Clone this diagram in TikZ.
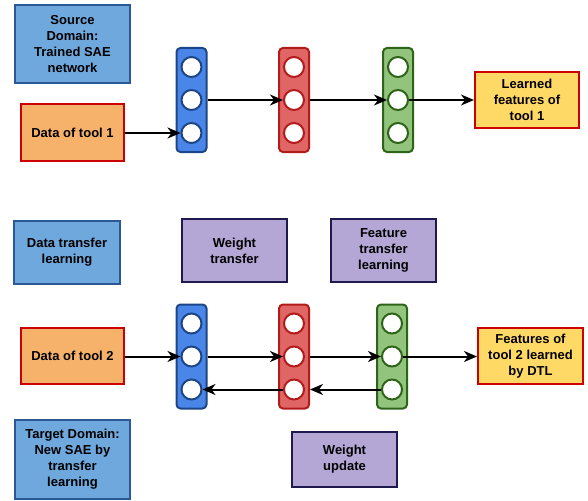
\documentclass[tikz,border=0pt]{standalone}
\usepackage{fontspec}
\setmainfont{Liberation Sans}
\usetikzlibrary{arrows.meta}

\definecolor{domfill}{HTML}{6FA8DC}
\definecolor{domline}{HTML}{2B5797}
\definecolor{bluefill}{HTML}{4A86E8}
\definecolor{blueline}{HTML}{1C4587}
\definecolor{redfill}{HTML}{E06666}
\definecolor{redline}{HTML}{B31B1B}
\definecolor{greenfill}{HTML}{93C47D}
\definecolor{greenline}{HTML}{2E6418}
\definecolor{orangefill}{HTML}{F6B26B}
\definecolor{yellowfill}{HTML}{FFD966}
\definecolor{boxred}{HTML}{CC0000}
\definecolor{purplefill}{HTML}{B4A7D6}
\definecolor{purpleline}{HTML}{1E1A4D}

\tikzset{
  lbl/.style={draw, line width=2pt, align=center, inner sep=0pt,
    font=\bfseries\fontsize{13}{16}\selectfont},
  dombox/.style={lbl, fill=domfill, draw=domline},
  databox/.style={lbl, fill=orangefill, draw=boxred},
  featbox/.style={lbl, fill=yellowfill, draw=boxred},
  methbox/.style={lbl, fill=purplefill, draw=purpleline},
  layer/.style={draw, line width=2pt, rounded corners=4pt, inner sep=0pt,
    minimum width=30pt, minimum height=104pt},
  unit/.style={circle, draw, fill=white, line width=2pt, inner sep=0pt,
    minimum size=20pt},
  flow/.style={line width=2pt,
    -{Stealth[length=13pt, width=11pt, inset=4pt]}},
}

% one network layer: column #1 with three units #1-1, #1-2, #1-3
\newcommand{\saelayer}[4]{%
  \node[layer, fill=#3, draw=#4] (#1) at (#2) {};
  \node[unit, draw=#4] (#1-1) at ([yshift=33pt]#1.center) {};
  \node[unit, draw=#4] (#1-2) at (#1.center) {};
  \node[unit, draw=#4] (#1-3) at ([yshift=-33pt]#1.center) {};
}

\begin{document}
\begin{tikzpicture}[x=1pt, y=-1pt]
\useasboundingbox (0,0) rectangle (588,500);

% ---- source domain ----
\node[dombox, minimum width=115pt, minimum height=78pt] (src) at (72.5,44)
  {Source\\Domain:\\Trained SAE\\network};
\node[databox, minimum width=103pt, minimum height=56pt] (d1) at (72.5,132.5)
  {Data of tool 1};
\saelayer{sa}{191.5,100}{bluefill}{blueline}
\saelayer{sb}{294,100}{redfill}{redline}
\saelayer{sc}{398,100}{greenfill}{greenline}
\node[featbox, minimum width=104pt, minimum height=56pt] (f1) at (527,100)
  {Learned\\features of\\tool 1};

\draw[flow] (d1.east |- sa-3) -- (sa-3.west);
\draw[flow] (sa.east |- sa-2) -- (sb-2.west);
\draw[flow] (sb.east |- sb-2) -- (sc-2.west);
\draw[flow] (sc-2.east) -- (f1.west |- sc-2);

% ---- transfer methods ----
\node[dombox, minimum width=106pt, minimum height=63pt] (dtl) at (67,252.5)
  {Data transfer\\learning};
\node[methbox, minimum width=105pt, minimum height=63pt] (wt) at (234.5,250.5)
  {Weight\\transfer};
\node[methbox, minimum width=105pt, minimum height=63pt] (ftl) at (383.5,250.5)
  {Feature\\transfer\\learning};

% ---- target domain ----
\node[databox, minimum width=103pt, minimum height=56pt] (d2) at (72.5,356)
  {Data of tool 2};
\saelayer{ta}{191.5,356.5}{bluefill}{blueline}
\saelayer{tb}{294,356.5}{redfill}{redline}
\saelayer{tc}{392,356.5}{greenfill}{greenline}
\node[featbox, minimum width=105pt, minimum height=56pt] (f2) at (530.5,356)
  {Features of\\tool 2 learned\\by DTL};
\node[dombox, minimum width=115pt, minimum height=79pt] (tgt) at (72.5,459.5)
  {Target Domain:\\New SAE by\\transfer\\learning};
\node[methbox, minimum width=105pt, minimum height=55pt] (wu) at (344.5,459.5)
  {Weight\\update};

\draw[flow] (d2.east |- ta-2) -- (ta-2.west);
\draw[flow] (ta.east |- ta-2) -- (tb-2.west);
\draw[flow] (tb.east |- tb-2) -- (tc-2.west);
\draw[flow] (tc-2.east) -- (f2.west |- tc-2);
\draw[flow] (tc-3.west) -- (tb.east |- tc-3);
\draw[flow] (tb-3.west) -- (ta-3.east);

\end{tikzpicture}
\end{document}
